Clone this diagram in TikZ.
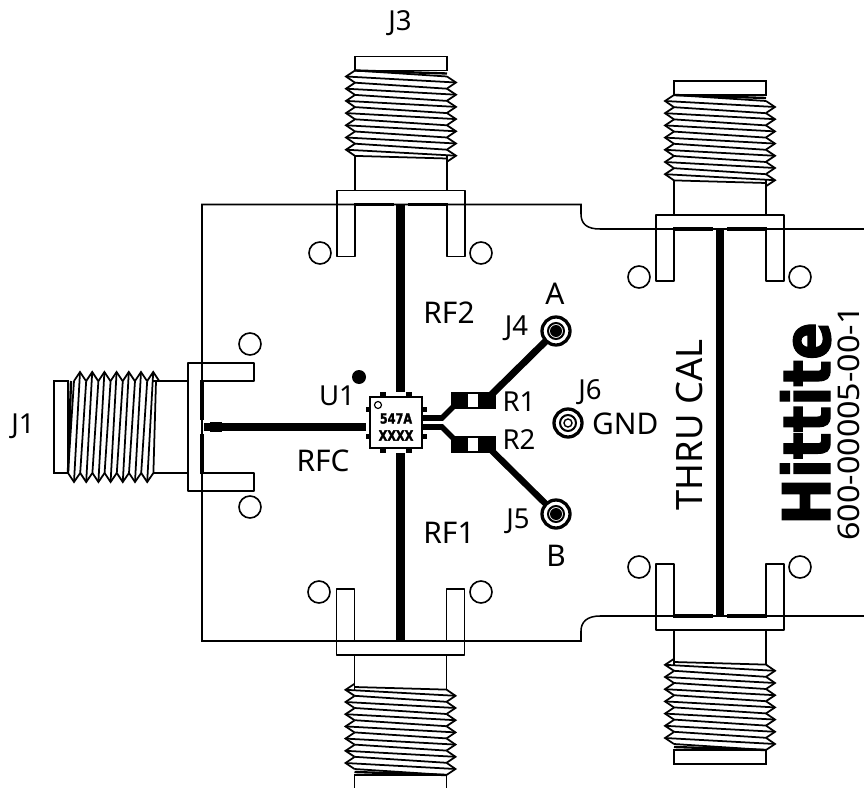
\documentclass[tikz,border=0pt]{standalone}
\usepackage{fontspec}
\setmainfont{Noto Sans}
\newfontfamily\logofont[BoldFeatures={FakeBold=2}]{DejaVu Sans}
\usetikzlibrary{calc}
\tikzset{
  board/.style={line width=1.3pt},
  outl/.style={line width=1.5pt},
  trace/.style={line width=7.6pt},
  lbl/.style={font=\fontsize{25.5}{25.5}\selectfont,inner sep=0pt},
  smlbl/.style={font=\fontsize{23.5}{23.5}\selectfont,inner sep=0pt},
  chiplbl/.style={font=\logofont\bfseries\fontsize{9.6}{9.6}\selectfont,inner sep=0pt,yscale=1.25},
  hole/.style={line width=1.4pt}
}
% threaded connector, origin on the board edge, pointing up before rotation
\newcommand{\smaconn}[4]{%
  \begin{scope}[shift={(#1,#2)},rotate=#3]
    \draw[outl] (-46,-134) rectangle (46,-148);
    \draw[outl] (-46,-49) -- (-46,-14) (46,-49) -- (46,-14);
    \draw[outl,line join=round] (-46,1) -- (-46,52) -- (-64,52) -- (-64,-14) -- (64,-14) -- (64,52) -- (46,52) -- (46,1);
    % thread
    \foreach \i in {0,...,6} {
      \draw[outl,line join=miter] (-46,{-134+12.2*\i}) -- (-55,{-128+12.2*\i}) -- (-46,{-121.8+12.2*\i});
      \draw[outl] (-55,{-128+12.2*\i}) -- (55,{-122+12.2*\i});
      \draw[outl] (-46,{-134+12.2*\i}) -- (46,{-128+12.2*\i});
      \draw[outl,line join=miter] (46,{-128+12.2*\i}) -- (55,{-122+12.2*\i}) -- (46,{-116+12.2*\i});
    }
    \draw[outl] (-46,-48.6) -- (46,-46);
    \draw[line width=2pt] (-46,-134) -- (46,-131);
    % signal pad
    \draw[line width=#4] (-47,0) -- (-7,0) (7,0) -- (47,0);
  \end{scope}}
\begin{document}
\begin{tikzpicture}[x=0.03cm,y=-0.03cm]
  \useasboundingbox (0,0) rectangle (864,788);
  \begin{scope}
    \clip (0,0) rectangle (864,788);

    % board
    \draw[board] (864,229) -- (600,229) .. controls (587,229) and (581,224) .. (581,214) -- (581,204.5) -- (202,204.5)
      -- (202,641) -- (581,641) -- (581,631) .. controls (581,622) and (587,616) .. (600,616) -- (864,616);

    % connectors
    \smaconn{401}{204.5}{0}{3pt}
    \smaconn{400.5}{641}{180}{2pt}
    \smaconn{202}{427}{90}{2.6pt}
    \smaconn{720}{229}{0}{3pt}
    \smaconn{720}{616}{180}{2.6pt}

    % mounting holes
    \foreach \hx/\hy in {320/253,481/253,319/592,481/592,250/344,250/507,639/277,800/277,639/567,800/567}
      \draw[hole] (\hx,\hy) circle (11);

    % traces
    \draw[trace] (400.5,205) -- (400.5,392);
    \draw[trace] (400.5,453) -- (400.5,641);
    \draw[trace] (204,427) -- (366,427);
    \draw[line width=9pt] (210,427) -- (222,427);
    \draw[trace] (720,229) -- (720,616);
    \draw[line width=4.8pt] (422,418) -- (442,418) -- (456,404);
    \draw[line width=4.8pt] (422,427) -- (442,427) -- (456,441);
    \draw[line width=6pt] (488,398) -- (556,331);
    \draw[line width=5.5pt] (488,447) -- (556,514);

    % chip
    \draw[line width=1.6pt,fill=white] (370,397) rectangle (422,448);
    \foreach \px in {380,406} {
      \fill (\px,392) rectangle ++(6,5);
      \fill (\px,448) rectangle ++(6,5);
    }
    \foreach \py in {407,434} {
      \fill (366,\py) rectangle ++(5,5);
      \fill (422,\py) rectangle ++(5,5);
    }
    \draw[line width=1pt] (378,405) circle (3.5);
    \fill (359,377) circle (7);
    \node[chiplbl] (chiptop) at (396,418.5) {547A};
    \node[chiplbl] (chipbot) at (396,435.5) {XXXX};

    % resistors
    \foreach \ry in {393,437} {
      \draw[outl] (452,\ry) rectangle (495,\ry+15);
      \fill (452,\ry) rectangle (468,\ry+15);
      \fill (478,\ry) rectangle (495,\ry+15);
    }

    % test points
    \foreach \tx/\ty in {556/331,556/514} {
      \draw[line width=2.8pt,fill=white] (\tx,\ty) circle (14);
      \draw[line width=1.7pt] (\tx,\ty) circle (8);
      \fill (\tx,\ty) circle (6);
    }
    \draw[line width=2.8pt] (568,423) circle (14);
    \draw[line width=1.7pt] (568,423) circle (8);
    \draw[line width=1.2pt] (568,423) circle (4);

    % labels
    \node[smlbl] (lbJ3) at (400,23.5) {J3};
    \node[smlbl] (lbJ1) at (23,426) {J1};
    \node[lbl] (lbRFtwo) at (449,313) {RF2};
    \node[lbl] (lbRFC) at (323,461) {RFC};
    \node[lbl] (lbRFone) at (449,533) {RF1};
    \node[smlbl] (lbUone) at (337,396) {U1};
    \node[lbl] (lbA) at (555,294) {A};
    \node[lbl] (lbB) at (556,556) {B};
    \node[smlbl] (lbJfour) at (516.5,328) {J4};
    \node[smlbl] (lbJfive) at (518,521) {J5};
    \node[smlbl] (lbJsix) at (590,392) {J6};
    \node[smlbl] (lbRone) at (519,402) {R1};
    \node[smlbl] (lbRtwo) at (519,440) {R2};
    \node[lbl,anchor=west] (lbGND) at (592,424) {GND};
    \node[lbl,rotate=90,anchor=base,font=\fontsize{31}{31}\selectfont] (lbThru) at (702,425) {THRU CAL};
    \node[lbl,rotate=90,anchor=base,xscale=1.08] (lbPart) at (859,423.5) {600-00005-00-1};
    \node[rotate=90,anchor=base,inner sep=0pt,font=\logofont\bfseries\fontsize{56}{56}\selectfont,xscale=0.85] (lbLogo) at (830,423.5) {Hittite};
  \end{scope}
\end{tikzpicture}
\end{document}
